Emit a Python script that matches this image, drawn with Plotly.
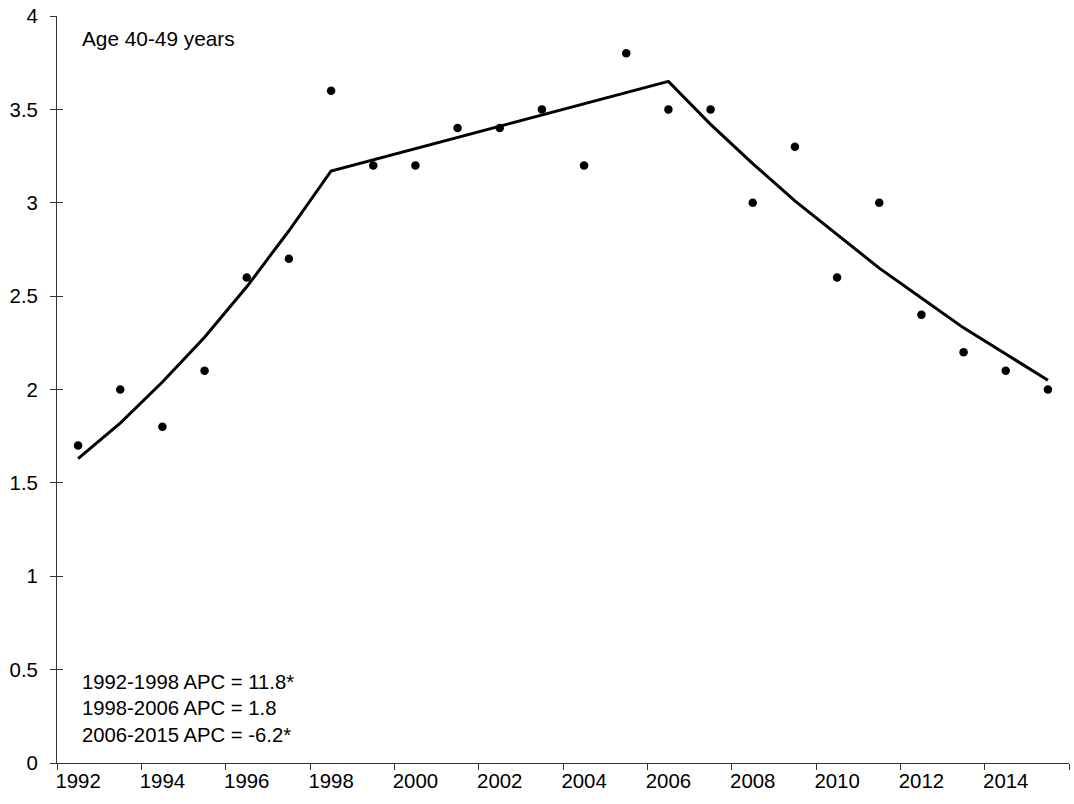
import plotly.graph_objects as go

years = list(range(1992, 2016))
observed = [1.7, 2.0, 1.8, 2.1, 2.6, 2.7, 3.6, 3.2, 3.2, 3.4, 3.4, 3.5,
            3.2, 3.8, 3.5, 3.5, 3.0, 3.3, 2.6, 3.0, 2.4, 2.2, 2.1, 2.0]
fitted = [1.63, 1.82, 2.04, 2.28, 2.55, 2.85, 3.17, 3.23, 3.29, 3.35, 3.41, 3.47,
          3.53, 3.59, 3.65, 3.42, 3.21, 3.01, 2.83, 2.65, 2.49, 2.33, 2.19, 2.05]
tick_years = list(range(1992, 2015, 2))
tick_labels = [str(y) for y in tick_years]
y_ticks = [0, 0.5, 1, 1.5, 2, 2.5, 3, 3.5, 4]
y_labels = ["0", "0.5", "1", "1.5", "2", "2.5", "3", "3.5", "4"]
title_text = "Age 40-49 years"
apc_lines = ["1992-1998 APC = 11.8*", "1998-2006 APC = 1.8", "2006-2015 APC = -6.2*"]

FONT = "Liberation Sans, Arial, sans-serif"
AX = "#333333"

fig = go.Figure()
fig.add_trace(go.Scatter(x=years, y=fitted, mode="lines",
                         line=dict(color="black", width=3), showlegend=False))
fig.add_trace(go.Scatter(x=years, y=observed, mode="markers",
                         marker=dict(color="black", size=8.5), showlegend=False))
# invisible trace for the overlay axis carrying inside ticks
fig.add_trace(go.Scatter(x=[years[0]], y=[observed[0]], mode="markers",
                         marker=dict(opacity=0), yaxis="y2", showlegend=False,
                         hoverinfo="skip"))

fig.update_layout(
    width=1074, height=804,
    margin=dict(l=57, r=5, t=16, b=41),
    paper_bgcolor="white", plot_bgcolor="white",
    font=dict(family=FONT, size=20, color="black"),
    xaxis=dict(range=[1991.5, 2015.5], tickmode="array", tickvals=tick_years,
               ticktext=tick_labels, ticks="", showgrid=False, zeroline=False,
               showline=True, linecolor=AX, linewidth=1, automargin=False,
               tickfont=dict(family=FONT, size=20.4, color="black"),
               minor=dict(tick0=1991.5, dtick=2, ticks="outside", ticklen=6,
                          tickwidth=1, tickcolor=AX, showgrid=False)),
    yaxis=dict(range=[0, 4], tickmode="array", tickvals=y_ticks, ticktext=y_labels,
               ticks="outside", ticklen=6, tickwidth=1, tickcolor=AX,
               showgrid=False, zeroline=False, showline=True, linecolor=AX,
               linewidth=1, ticklabelstandoff=8, automargin=False,
               tickfont=dict(family=FONT, size=20.4, color="black")),
    yaxis2=dict(range=[0, 4], overlaying="y", side="left", tickmode="array",
                tickvals=y_ticks, ticks="inside", ticklen=6, tickwidth=1,
                tickcolor=AX, showticklabels=False, showgrid=False,
                zeroline=False, showline=False, automargin=False),
    annotations=[
        dict(text=title_text, xref="paper", yref="paper", x=0.0225, y=0.9705,
             xanchor="left", yanchor="middle", showarrow=False,
             font=dict(family=FONT, size=20.8, color="black")),
        dict(text="<br>".join(apc_lines), xref="paper", yref="paper",
             x=0.0225, y=0.0736, xanchor="left", yanchor="middle", align="left",
             showarrow=False, font=dict(family=FONT, size=20.3, color="black")),
    ],
)

fig.write_html("out.html", config={"displayModeBar": False},
               post_script="document.body.style.margin='0';document.body.style.padding='0';")
